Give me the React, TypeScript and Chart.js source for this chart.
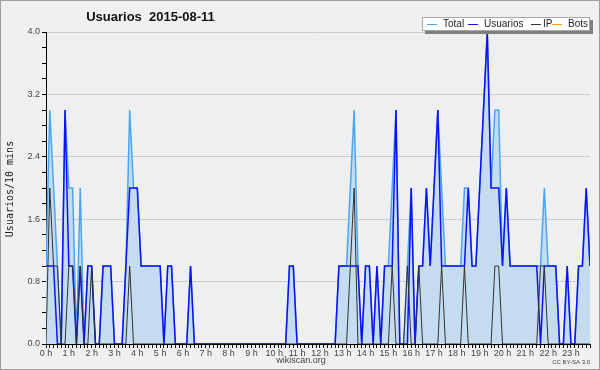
import { useEffect, useRef } from 'react';
import { Chart, registerables } from 'chart.js';

Chart.register(...registerables);

const hourLabels = [
  '0 h', '1 h', '2 h', '3 h', '4 h', '5 h', '6 h', '7 h', '8 h', '9 h', '10 h', '11 h',
  '12 h', '13 h', '14 h', '15 h', '16 h', '17 h', '18 h', '19 h', '20 h', '21 h', '22 h', '23 h',
];

const yTickLabels = ['0.0', '0.8', '1.6', '2.4', '3.2', '4.0'];

// one value per 10 minutes, 144 slots
const total = [
  1, 3, 2, 1, 0, 3, 2, 2, 0, 2, 0, 1,
  1, 0, 0, 1, 1, 1, 0, 0, 0, 1, 3, 2,
  2, 1, 1, 1, 1, 1, 1, 0, 1, 1, 0, 0,
  0, 0, 1, 0, 0, 0, 0, 0, 0, 0, 0, 0,
  0, 0, 0, 0, 0, 0, 0, 0, 0, 0, 0, 0,
  0, 0, 0, 0, 1, 1, 0, 0, 0, 0, 0, 0,
  0, 0, 0, 0, 0, 1, 1, 1, 2, 3, 1, 0,
  1, 1, 0, 1, 0, 1, 1, 2, 3, 0, 0, 1,
  2, 0, 1, 1, 2, 1, 2, 3, 2, 1, 1, 1,
  1, 1, 2, 2, 1, 1, 2, 3, 4, 2, 3, 3,
  1, 2, 1, 1, 1, 1, 1, 1, 1, 1, 1, 2,
  1, 1, 1, 0, 0, 1, 0, 0, 1, 1, 2, 1,
];

const usuarios = [
  1, 1, 1, 0, 0, 3, 1, 1, 0, 1, 0, 1,
  1, 0, 0, 1, 1, 1, 0, 0, 0, 1, 2, 2,
  2, 1, 1, 1, 1, 1, 1, 0, 1, 1, 0, 0,
  0, 0, 1, 0, 0, 0, 0, 0, 0, 0, 0, 0,
  0, 0, 0, 0, 0, 0, 0, 0, 0, 0, 0, 0,
  0, 0, 0, 0, 1, 1, 0, 0, 0, 0, 0, 0,
  0, 0, 0, 0, 0, 1, 1, 1, 1, 1, 1, 0,
  1, 1, 0, 1, 0, 1, 1, 1, 3, 0, 0, 0,
  2, 0, 1, 1, 2, 1, 2, 3, 1, 1, 1, 1,
  1, 1, 1, 2, 1, 1, 2, 3, 4, 2, 2, 2,
  1, 2, 1, 1, 1, 1, 1, 1, 1, 1, 0, 1,
  1, 1, 1, 0, 0, 1, 0, 0, 1, 1, 2, 1,
];

const ip = [
  0, 2, 1, 1, 0, 0, 1, 1, 0, 1, 0, 0,
  1, 0, 0, 0, 0, 0, 0, 0, 0, 0, 1, 0,
  0, 0, 0, 0, 0, 0, 0, 0, 0, 0, 0, 0,
  0, 0, 0, 0, 0, 0, 0, 0, 0, 0, 0, 0,
  0, 0, 0, 0, 0, 0, 0, 0, 0, 0, 0, 0,
  0, 0, 0, 0, 0, 0, 0, 0, 0, 0, 0, 0,
  0, 0, 0, 0, 0, 0, 0, 0, 1, 2, 0, 0,
  0, 0, 0, 0, 0, 0, 0, 1, 0, 0, 0, 1,
  0, 0, 1, 0, 0, 0, 0, 0, 1, 0, 0, 0,
  0, 0, 1, 0, 0, 0, 0, 0, 0, 0, 1, 1,
  0, 0, 0, 0, 0, 0, 0, 0, 0, 0, 1, 1,
  0, 0, 0, 0, 0, 0, 0, 0, 0, 0, 0, 0,
];

const bots = [
  0, 0, 0, 0, 0, 0, 0, 0, 0, 0, 0, 0,
  0, 0, 0, 0, 0, 0, 0, 0, 0, 0, 0, 0,
  0, 0, 0, 0, 0, 0, 0, 0, 0, 0, 0, 0,
  0, 0, 0, 0, 0, 0, 0, 0, 0, 0, 0, 0,
  0, 0, 0, 0, 0, 0, 0, 0, 0, 0, 0, 0,
  0, 0, 0, 0, 0, 0, 0, 0, 0, 0, 0, 0,
  0, 0, 0, 0, 0, 0, 0, 0, 0, 0, 0, 0,
  0, 0, 0, 0, 0, 0, 0, 0, 0, 0, 0, 0,
  0, 0, 0, 0, 0, 0, 0, 0, 0, 0, 0, 0,
  0, 0, 0, 0, 0, 0, 0, 0, 0, 0, 0, 0,
  0, 0, 0, 0, 0, 0, 0, 0, 0, 0, 0, 0,
  0, 0, 0, 0, 0, 0, 0, 0, 0, 0, 0, 0,
];

const legendItems = [
  { label: 'Total', color: '#4aa6f2' },
  { label: 'Usuarios', color: '#1010ff' },
  { label: 'IP', color: '#333333' },
  { label: 'Bots', color: '#ff9a1a' },
];

const toPoints = (arr: number[]) => arr.map((v, i) => ({ x: i, y: v }));

const isMajor = (v: number) => Math.abs(v / 0.8 - Math.round(v / 0.8)) < 1e-6;

const decorPlugin = {
  id: 'decor',
  beforeDraw(chart: any) {
    const { ctx, chartArea } = chart;
    ctx.save();
    ctx.fillStyle = '#f0f0f0';
    ctx.fillRect(0, 0, chart.width, chart.height);
    ctx.fillStyle = '#eeeff1';
    ctx.fillRect(chartArea.left, chartArea.top, chartArea.right - chartArea.left, chartArea.bottom - chartArea.top);
    ctx.restore();
  },
  afterDraw(chart: any) {
    const { ctx } = chart;
    ctx.save();
    // title
    ctx.fillStyle = '#111';
    ctx.font = 'bold 13px "Liberation Sans", Arial, sans-serif';
    ctx.textAlign = 'center';
    ctx.textBaseline = 'alphabetic';
    ctx.fillText('Usuarios  2015-08-11', 150.5, 21);

    // y axis title
    ctx.save();
    ctx.translate(10, 189);
    ctx.rotate(-Math.PI / 2);
    ctx.font = '10px "DejaVu Sans Mono", monospace';
    ctx.textAlign = 'center';
    ctx.textBaseline = 'middle';
    ctx.fillStyle = '#222';
    ctx.fillText('Usuarios/10 mins', 0, 0);
    ctx.restore();

    // legend box
    ctx.fillStyle = '#808080';
    ctx.fillRect(425, 20, 168, 14);
    ctx.fillStyle = '#ffffff';
    ctx.fillRect(422, 17, 168, 14);
    ctx.strokeStyle = '#a8a8a8';
    ctx.lineWidth = 1;
    ctx.strokeRect(422.5, 17.5, 167, 13);
    const lineX = [427, 468, 531, 552];
    const textX = [443, 484, 543, 568];
    ctx.font = '10px "Liberation Sans", Arial, sans-serif';
    ctx.textAlign = 'left';
    ctx.textBaseline = 'middle';
    legendItems.forEach((it, k) => {
      ctx.strokeStyle = it.color;
      ctx.lineWidth = 1;
      ctx.beginPath();
      ctx.moveTo(lineX[k], 24.5);
      ctx.lineTo(lineX[k] + 10, 24.5);
      ctx.stroke();
      ctx.fillStyle = '#222';
      ctx.fillText(it.label, textX[k], 24.5);
    });

    // footer
    ctx.fillStyle = '#444';
    ctx.font = '9px "Liberation Sans", Arial, sans-serif';
    ctx.textAlign = 'center';
    ctx.fillText('wikiscan.org', 301, 361);
    ctx.font = '6px "Liberation Sans", Arial, sans-serif';
    ctx.textAlign = 'right';
    ctx.fillText('CC BY-SA 3.0', 590, 362);

    // outer border
    ctx.strokeStyle = '#a0a0a0';
    ctx.lineWidth = 1;
    ctx.strokeRect(0.5, 0.5, chart.width - 1, chart.height - 1);
    ctx.restore();
  },
};

export default function App() {
  const ref = useRef<HTMLCanvasElement | null>(null);

  useEffect(() => {
    if (!ref.current) return;
    const chart = new Chart(ref.current, {
      type: 'line',
      data: {
        datasets: [
          {
            label: 'IP',
            data: toPoints(ip),
            borderColor: '#333333',
            borderWidth: 1,
            pointRadius: 0,
            fill: false,
            order: 1,
          },
          {
            label: 'Usuarios',
            data: toPoints(usuarios),
            borderColor: '#1010ff',
            borderWidth: 1.5,
            pointRadius: 0,
            fill: false,
            order: 2,
          },
          {
            label: 'Total',
            data: toPoints(total),
            borderColor: '#4aa6f2',
            backgroundColor: '#c5dcf0',
            borderWidth: 1.5,
            pointRadius: 0,
            fill: 'origin',
            order: 3,
          },
          {
            label: 'Bots',
            data: toPoints(bots),
            borderColor: '#ff9a1a',
            borderWidth: 1,
            pointRadius: 0,
            fill: false,
            order: 4,
          },
        ],
      },
      options: {
        animation: false,
        responsive: false,
        layout: { padding: { top: 32, right: 10, left: 0, bottom: 0 } },
        plugins: {
          legend: { display: false },
          title: { display: false },
          tooltip: { enabled: false },
        },
        scales: {
          x: {
            type: 'linear',
            min: 0,
            max: 143,
            z: 1,
            afterBuildTicks: (s: any) => {
              s.ticks = total.map((_, i) => ({ value: i }));
            },
            afterFit: (s: any) => {
              s.height = 26;
            },
            ticks: {
              autoSkip: false,
              maxRotation: 0,
              padding: 0,
              color: '#444',
              font: { size: 9, family: '"Liberation Sans", Arial, sans-serif' },
              callback: (v: any) => (Number(v) % 6 === 0 ? hourLabels[Number(v) / 6] : ''),
            },
            grid: { drawOnChartArea: false, tickLength: 4, tickColor: '#000' },
            border: { color: '#000', width: 1 },
          },
          y: {
            min: 0,
            max: 4,
            z: 1,
            afterBuildTicks: (s: any) => {
              const t = [];
              for (let k = 0; k <= 20; k++) t.push({ value: k * 0.2 });
              s.ticks = t;
            },
            afterFit: (s: any) => {
              s.width = 46;
            },
            ticks: {
              autoSkip: false,
              padding: 2,
              color: '#444',
              font: { size: 9, family: '"Liberation Sans", Arial, sans-serif' },
              callback: (v: any) => (isMajor(Number(v)) ? yTickLabels[Math.round(Number(v) / 0.8)] : ''),
            },
            grid: {
              color: (c: any) => (c.tick && isMajor(c.tick.value) && c.tick.value > 0 ? '#cccccc' : 'rgba(0,0,0,0)'),
              tickColor: '#000',
              tickLength: 4,
            },
            border: { color: '#000', width: 1 },
          },
        },
      },
      plugins: [decorPlugin],
    } as any);
    return () => chart.destroy();
  }, []);

  return (
    <div style={{ position: 'absolute', left: 0, top: 0, width: 600, height: 370 }}>
      <canvas ref={ref} width={600} height={370} style={{ width: 600, height: 370 }} />
    </div>
  );
}
